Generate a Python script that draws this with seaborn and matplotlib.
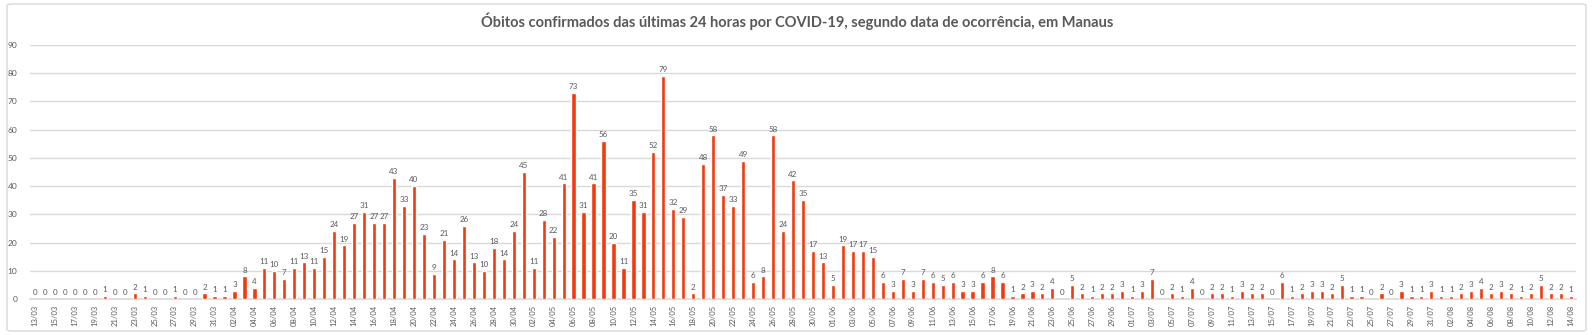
import matplotlib
matplotlib.use("Agg")
import matplotlib.pyplot as plt
import seaborn as sns
import pandas as pd
import datetime as dt
from matplotlib.patches import FancyBboxPatch

title = "Óbitos confirmados das últimas 24 horas por COVID-19, segundo data de ocorrência, em Manaus"

start = dt.date(2020, 3, 13)
values = [
    0, 0, 0, 0, 0, 0, 0, 1, 0, 0, 2, 1, 0, 0, 1, 0, 0, 2, 1,           # 13/03-31/03
    1, 3, 8, 4, 11, 10, 7, 11, 13, 11, 15, 24, 19, 27, 31, 27, 27, 43, 33, 40,
    23, 9, 21, 14, 26, 13, 10, 18, 14, 24,                              # April
    45, 11, 28, 22, 41, 73, 31, 41, 56, 20, 11, 35, 31, 52, 79, 32, 29, 2,
    48, 58, 37, 33, 49, 6, 8, 58, 24, 42, 35, 17, 13,                    # May
    5, 19, 17, 17, 15, 6, 3, 7, 3, 7, 6, 5, 6, 3, 3, 6, 8, 6, 1, 2, 3, 2,
    4, 0, 5, 2, 1, 2, 2, 3,                                              # June
    1, 3, 7, 0, 2, 1, 4, 0, 2, 2, 1, 3, 2, 2, 0, 6, 1, 2, 3, 3, 2, 5, 1,
    1, 0, 2, 0, 3, 1, 1, 3,                                              # July
    1, 1, 2, 3, 4, 2, 3, 2, 1, 2, 5, 2, 2, 1,                            # August
]
dates = [(start + dt.timedelta(days=i)).strftime("%d/%m") for i in range(len(values))]
df = pd.DataFrame({"data": dates, "obitos": values})

bar_color = "#F23A0E"
text_color = "#595959"
grid_color = "#D9D9D9"

sns.set_theme(style="white")
plt.rcParams["font.family"] = ["Lato", "DejaVu Sans"]

fig = plt.figure(figsize=(15.94, 3.35), dpi=100)
ax = fig.add_axes([30 / 1594, 1 - 299 / 335, (1576 - 30) / 1594, (299 - 45) / 335])

sns.barplot(data=df, x="data", y="obitos", color=bar_color, width=0.42,
            saturation=1, ax=ax, zorder=3)

ax.set_ylim(0, 90)
ax.set_xlim(-0.5, len(values) - 0.5)
ax.set_yticks(range(0, 91, 10))
ax.yaxis.grid(True, color=grid_color, linewidth=1, zorder=0)
ax.tick_params(axis="y", length=0, labelsize=6, labelcolor=text_color, pad=9)
ax.set_xticks(range(0, len(values), 2))
ax.set_xticklabels(dates[::2], rotation=90, fontsize=5.5, color=text_color)
ax.tick_params(axis="x", length=0, pad=4)
ax.set_xlabel("")
ax.set_ylabel("")
for s in ["top", "right", "left"]:
    ax.spines[s].set_visible(False)
ax.spines["bottom"].set_color(grid_color)

for c in ax.containers:
    ax.bar_label(c, labels=[str(v) for v in values], fontsize=5.8,
                 color=text_color, padding=2)

fig.text(0.5, 1 - 21 / 335, title, ha="center", va="center",
         fontsize=10.5, fontweight="bold", color=text_color)

border = FancyBboxPatch((7 / 1594, 4 / 335), (1586 - 7) / 1594, (331 - 4) / 335,
                        boxstyle="round,pad=0,rounding_size=0.004",
                        transform=fig.transFigure, fill=False,
                        edgecolor=grid_color, linewidth=1)
fig.patches.append(border)

fig.savefig("out.png", dpi=100)
